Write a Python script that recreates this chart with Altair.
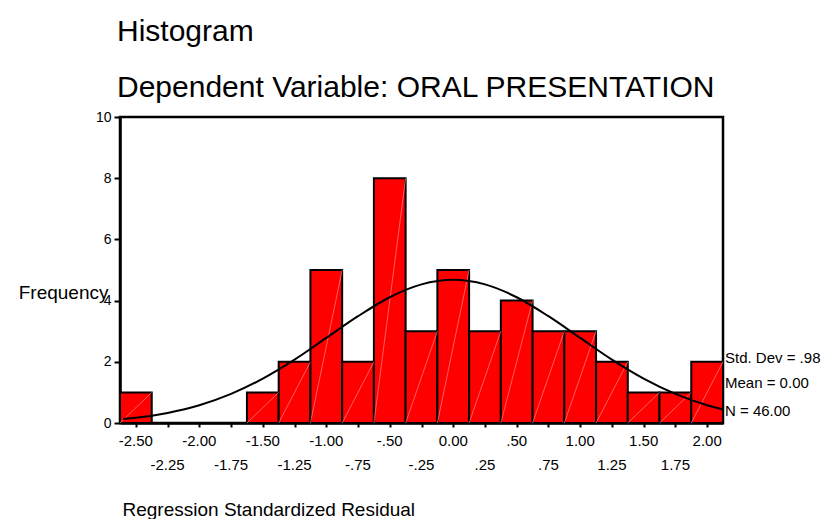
import altair as alt
import pandas as pd

# ---- data ----
bin_centers = [-2.50, -2.25, -2.00, -1.75, -1.50, -1.25, -1.00, -0.75, -0.50, -0.25,
               0.00, 0.25, 0.50, 0.75, 1.00, 1.25, 1.50, 1.75, 2.00]
counts = [1, 0, 0, 0, 1, 2, 5, 2, 8, 3, 5, 3, 4, 3, 3, 2, 1, 1, 2]
bin_width = 0.25

curve_x = [-2.60, -2.50, -2.25, -2.00, -1.75, -1.50, -1.25, -1.00, -0.75, -0.50, -0.25,
           0.00, 0.25, 0.50, 0.75, 1.00, 1.25, 1.50, 1.75, 2.00, 2.12]
curve_y = [0.13, 0.17, 0.33, 0.58, 0.95, 1.45, 2.07, 2.78, 3.49, 4.11, 4.53,
           4.68, 4.53, 4.11, 3.49, 2.78, 2.07, 1.45, 0.95, 0.58, 0.45]

row1_ticks = [-2.5, -2.0, -1.5, -1.0, -0.5, 0.0, 0.5, 1.0, 1.5, 2.0]
row1_labels = ["-2.50", "-2.00", "-1.50", "-1.00", "-.50", "0.00", ".50", "1.00", "1.50", "2.00"]
row2_ticks = [-2.25, -1.75, -1.25, -0.75, -0.25, 0.25, 0.75, 1.25, 1.75]
row2_labels = ["-2.25", "-1.75", "-1.25", "-.75", "-.25", ".25", ".75", "1.25", "1.75"]
y_ticks = [0, 2, 4, 6, 8, 10]

title_lines = ["Histogram", "Dependent Variable: ORAL PRESENTATION"]
stats_lines = ["Std. Dev = .98", "Mean = 0.00", "N = 46.00"]
x_title = "Regression Standardized Residual"
y_title = "Frequency"

FONT = "Liberation Sans"
W, H = 603, 306

bars = pd.DataFrame({"center": bin_centers, "count": counts})
bars["left"] = bars["center"] - bin_width / 2
bars["right"] = bars["center"] + bin_width / 2
bars["zero"] = 0
bars = bars[bars["count"] > 0]

curve = pd.DataFrame({"x": curve_x, "y": curve_y})
row1 = pd.DataFrame({"pos": row1_ticks, "label": row1_labels})
row2 = pd.DataFrame({"pos": row2_ticks, "label": row2_labels})

xscale = alt.Scale(domain=[-2.625, 2.125], nice=False, zero=False)
yscale = alt.Scale(domain=[0, 10], nice=False)

all_ticks = sorted(row1_ticks + row2_ticks)

x_axis = alt.Axis(values=all_ticks, labels=False, tickSize=4, tickWidth=2,
                  domainWidth=2.5, title=x_title, titleX=2, titleY=92,
                  titleAlign="left", titleBaseline="alphabetic",
                  titleFontSize=19, titleFontWeight="normal")
y_axis = alt.Axis(values=y_ticks, tickSize=6, tickWidth=2, domainWidth=2.5,
                  labelFontSize=14, labelPadding=3,
                  title=y_title, titleAngle=0, titleAlign="right",
                  titleBaseline="middle", titleX=-12, titleY=175,
                  titleFontSize=19, titleFontWeight="normal")


def X(field):
    return alt.X(field, scale=xscale, axis=x_axis, title=x_title)


def Y(field):
    return alt.Y(field, scale=yscale, axis=y_axis, title=y_title)


bar_layer = alt.Chart(bars).mark_rect(fill="#ff0000", stroke="black", strokeWidth=2).encode(
    x=X("left:Q"), x2="right:Q", y=Y("count:Q"), y2="zero:Q",
)

hatch_layer = alt.Chart(bars).mark_rule(color="#ffa0a0", strokeWidth=0.6).encode(
    x=X("left:Q"), x2="right:Q", y=Y("zero:Q"), y2="count:Q",
)

curve_layer = alt.Chart(curve).mark_line(color="black", strokeWidth=2, interpolate="monotone").encode(
    x=X("x:Q"), y=Y("y:Q"),
)

row1_layer = alt.Chart(row1).mark_text(fontSize=15, font=FONT, baseline="middle", align="center").encode(
    x=X("pos:Q"), y=alt.value(H + 18), text="label:N",
)
row2_layer = alt.Chart(row2).mark_text(fontSize=15, font=FONT, baseline="middle", align="center").encode(
    x=X("pos:Q"), y=alt.value(H + 42), text="label:N",
)

text_layers = []
for txt, yv in zip(title_lines, [-76, -20]):
    text_layers.append(
        alt.Chart(pd.DataFrame({"t": [txt]})).mark_text(
            fontSize=30, font=FONT, align="left", baseline="alphabetic"
        ).encode(x=alt.value(-3), y=alt.value(yv), text="t:N")
    )
for txt, yv in zip(stats_lines, [241, 266, 294]):
    text_layers.append(
        alt.Chart(pd.DataFrame({"t": [txt]})).mark_text(
            fontSize=15, font=FONT, align="left", baseline="middle"
        ).encode(x=alt.value(W + 2), y=alt.value(yv), text="t:N")
    )

chart = alt.layer(
    bar_layer, hatch_layer, curve_layer, row1_layer, row2_layer, *text_layers
).properties(
    width=W, height=H,
    autosize=alt.AutoSizeParams(type="none"),
    padding={"left": 112, "top": 109, "right": 98, "bottom": 96},
    background="white",
).configure_view(
    stroke="black", strokeWidth=2.5
).configure_axis(
    grid=False, domainColor="black", tickColor="black", labelColor="black",
    titleColor="black", labelFont=FONT, titleFont=FONT,
)

chart.save("out.html", embed_options={"renderer": "svg", "actions": False})
